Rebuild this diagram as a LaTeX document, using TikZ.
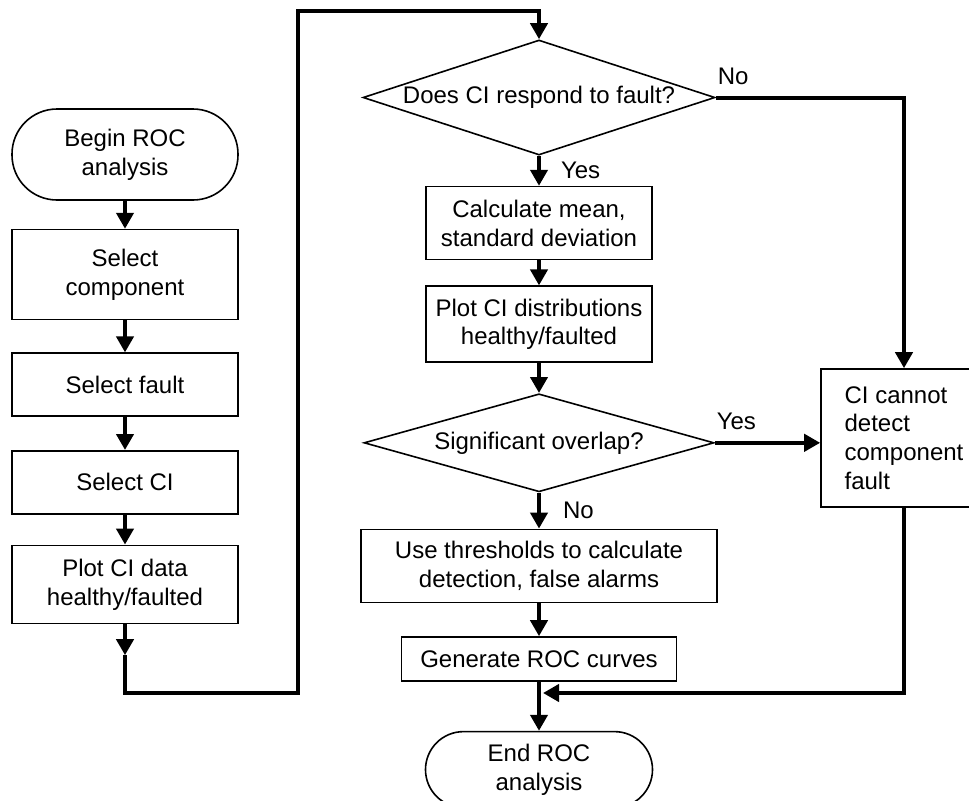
\documentclass[tikz,border=0pt]{standalone}
\usepackage{fontspec}
\setmainfont{Liberation Sans}
\usepackage{tikz}
\usetikzlibrary{shapes.geometric, arrows.meta, positioning}

\begin{document}
\begin{tikzpicture}[
    x=0.5pt, y=-0.5pt,
    font=\fontsize{12}{14.4}\selectfont,
    box/.style={rectangle, draw=black, line width=0.8pt, align=center, inner sep=0pt, minimum width=113pt},
    term/.style={box, rounded corners=#1},
    decision/.style={diamond, draw=black, line width=0.8pt, aspect=3.2, inner sep=0pt, align=center},
    arrow/.style={line width=2pt, -{Triangle[length=8pt, width=8.5pt]}},
    answer/.style={inner sep=0pt}
]
\useasboundingbox (0,0) rectangle (969,800);
\clip (0,0) rectangle (969,800);

% left column
\node (begin) [term=22.5pt, minimum height=45.5pt] at (125,154.5) {Begin ROC\\analysis};
\node (selcomp) [box, minimum height=45pt, below=14pt of begin] {Select\\component};
\node (selfault) [box, minimum height=31.5pt, below=16pt of selcomp] {Select fault};
\node (selci) [box, minimum height=31.5pt, below=16.5pt of selfault] {Select CI};
\node (plotdata) [box, minimum height=39pt, below=15pt of selci] {Plot CI data\\healthy/faulted};
\coordinate (loopin) at ([yshift=-15.5pt]plotdata.south);
\coordinate (loopbot) at (298,693);
\coordinate (looptop) at (298,11);

% middle column
\node (q1) [decision, minimum width=176pt, minimum height=57.5pt] at (539,97.5) {Does CI respond to fault?};
\node (calc) [box, minimum height=36.5pt, below=15pt of q1] {Calculate mean,\\standard deviation};
\node (plotdist) [box, minimum height=38pt, below=12.5pt of calc] {Plot CI distributions\\healthy/faulted};
\node (q2) [decision, minimum width=175pt, minimum height=49pt, below=15pt of plotdist] {Significant overlap?};
\node (thresh) [box, minimum width=178pt, minimum height=36.5pt, below=18pt of q2] {Use thresholds to calculate\\detection, false alarms};
\node (gen) [box, minimum width=137.5pt, minimum height=22pt, below=16.5pt of thresh] {Generate ROC curves};
\node (endn) [term=19pt, minimum width=113.5pt, minimum height=38pt, below=24.5pt of gen] {End ROC\\analysis};
\coordinate (merge) at (543,693);

% right column
\node (cidet) [box, align=left, minimum width=83pt, minimum height=69pt] at (904,438) {CI cannot\\detect\\component\\fault};

\draw [arrow] (begin) -- (selcomp);
\draw [arrow] (selcomp) -- (selfault);
\draw [arrow] (selfault) -- (selci);
\draw [arrow] (selci) -- (plotdata);
\draw [arrow] (plotdata) -- (loopin);
\draw [arrow] (loopin) |- (loopbot) -- (looptop) -| (q1.north);

\draw [arrow] (q1) -- node[answer, midway, right=10pt] {Yes} (calc);
\draw [arrow] (q1.east) -- node[answer, pos=0, anchor=south west, yshift=5.5pt] {No} (q1.east -| cidet) -- (cidet);
\draw [arrow] (calc) -- (plotdist);
\draw [arrow] (plotdist) -- (q2);
\draw [arrow] (q2.east) -- node[answer, pos=0, anchor=south west, yshift=5.5pt] {Yes} (q2.east -| cidet.west);
\draw [arrow] (q2) -- node[answer, midway, right=11pt] {No} (thresh);
\draw [arrow] (thresh) -- (gen);
\draw [arrow] (gen) -- (endn);
\draw [arrow] (cidet) |- (merge);

\end{tikzpicture}
\end{document}
